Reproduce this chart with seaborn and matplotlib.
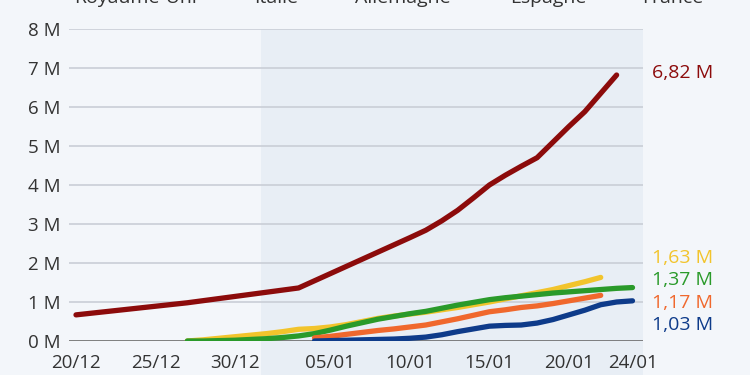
import matplotlib
matplotlib.use("Agg")
import matplotlib.pyplot as plt
from matplotlib.transforms import blended_transform_factory
import pandas as pd
import seaborn as sns

# ---------------- data (millions of doses) ----------------
countries = ["Royaume-Uni", "Italie", "Allemagne", "Espagne", "France"]

uk_dates = ["2020-12-20", "2020-12-27", "2021-01-03"] + \
    [d.strftime("%Y-%m-%d") for d in pd.date_range("2021-01-10", "2021-01-23")]
uk_values = [0.67, 0.98, 1.36, 2.65, 2.84, 3.08, 3.35, 3.67, 4.00, 4.25, 4.48,
             4.70, 5.10, 5.50, 5.88, 6.35, 6.82]

it_start = "2020-12-27"
it_values = [0.00, 0.03, 0.07, 0.11, 0.15, 0.19, 0.24, 0.30, 0.32, 0.36, 0.42,
             0.50, 0.58, 0.64, 0.69, 0.74, 0.80, 0.86, 0.93, 1.00, 1.08, 1.16,
             1.24, 1.32, 1.42, 1.52, 1.63]

de_start = "2020-12-27"
de_values = [0.00, 0.00, 0.01, 0.02, 0.04, 0.06, 0.09, 0.13, 0.19, 0.28, 0.38,
             0.47, 0.56, 0.63, 0.70, 0.76, 0.84, 0.92, 0.99, 1.06, 1.11, 1.15,
             1.19, 1.23, 1.26, 1.29, 1.32, 1.35, 1.37]

es_start = "2021-01-04"
es_values = [0.08, 0.12, 0.17, 0.22, 0.27, 0.31, 0.36, 0.41, 0.49, 0.57, 0.66,
             0.75, 0.80, 0.86, 0.90, 0.96, 1.03, 1.10, 1.17]

fr_start = "2021-01-04"
fr_values = [0.00, 0.01, 0.02, 0.03, 0.04, 0.05, 0.07, 0.10, 0.16, 0.24, 0.31,
             0.38, 0.40, 0.41, 0.46, 0.55, 0.67, 0.79, 0.93, 1.00, 1.03]

colors = {"Royaume-Uni": "#8c0b0b", "Italie": "#f2c42c", "Allemagne": "#2a9a2a",
          "Espagne": "#f0682d", "France": "#0e3b8a"}

xtick_dates = ["2020-12-20", "2020-12-25", "2020-12-30", "2021-01-05",
               "2021-01-10", "2021-01-15", "2021-01-20", "2021-01-24"]
xtick_labels = ["20/12", "25/12", "30/12", "05/01", "10/01", "15/01", "20/01", "24/01"]
ytick_values = [0, 1, 2, 3, 4, 5, 6, 7, 8]
ytick_labels = [f"{v} M" for v in ytick_values]

# ---------------- build long table ----------------
frames = [pd.DataFrame({"country": "Royaume-Uni",
                        "date": pd.to_datetime(uk_dates), "value": uk_values})]
for name, start, vals in [("Italie", it_start, it_values),
                          ("Allemagne", de_start, de_values),
                          ("Espagne", es_start, es_values),
                          ("France", fr_start, fr_values)]:
    frames.append(pd.DataFrame({"country": name,
                                "date": pd.date_range(start, periods=len(vals)),
                                "value": vals}))
df = pd.concat(frames, ignore_index=True)

# ---------------- style ----------------
sns.set_theme(style="white")
plt.rcParams["font.family"] = ["Open Sans", "DejaVu Sans"]
BG = "#f3f6fa"
SHADE = "#e8eef5"
GRID = "#c9ced6"
TXT = "#333333"

fig = plt.figure(figsize=(7.5, 3.75), dpi=100, facecolor=BG)
ax = fig.add_axes([69 / 750, 34 / 375, 574 / 750, 312 / 375])
ax.set_facecolor(BG)

base = pd.Timestamp("2020-12-20")
x0 = base - pd.Timedelta(days=0.44)
x1 = base + pd.Timedelta(days=35.66)

# shaded 2021 area, extending below the axis
ax.axvspan(pd.Timestamp("2020-12-31 15:00"), x1, ymin=-0.12, ymax=1.0,
           color=SHADE, zorder=0, clip_on=False, lw=0)

for v in ytick_values[1:]:
    ax.axhline(v, color=GRID, lw=1.2, zorder=1)
ax.axhline(0, color="#6b6b6b", lw=1.2, zorder=1)

sns.lineplot(data=df, x="date", y="value", hue="country", hue_order=countries,
             palette=colors, lw=3.8, legend=False, ax=ax, zorder=3, sort=True)
for ln in ax.lines:
    ln.set_solid_capstyle("round")
    ln.set_solid_joinstyle("round")

ax.set_xlim(x0, x1)
ax.set_ylim(0, 8)
ax.set_xlabel("")
ax.set_ylabel("")
ax.set_xticks(pd.to_datetime(xtick_dates))
ax.set_xticklabels(xtick_labels)
ax.set_yticks(ytick_values)
ax.set_yticklabels(ytick_labels)
ax.tick_params(axis="both", length=0, labelsize=13.5, colors=TXT)
ax.tick_params(axis="x", pad=9)
ax.tick_params(axis="y", pad=6)
for s in ax.spines.values():
    s.set_visible(False)

# end labels
label_y = [6.87, 2.13, 1.56, 0.97, 0.41]
ends = sorted([(df[df.country == c].value.iloc[-1], c) for c in countries], reverse=True)
trans = blended_transform_factory(ax.transAxes, ax.transData)
for (val, c), ly in zip(ends, label_y):
    ax.text(1.0157, ly, f"{val:.2f}".replace(".", ",") + " M", transform=trans,
            color=colors[c], fontsize=14, ha="left", va="center", clip_on=False)

# legend (cut off at the top of the image, as in the reference)
legend_x = [136, 276, 403, 548, 673]
for name, lx in zip(countries, legend_x):
    fig.text(lx / 750, 1 - 3 / 375, name, ha="center", va="baseline",
             fontsize=14, color=TXT)

fig.savefig("out.png", dpi=100, facecolor=BG)
